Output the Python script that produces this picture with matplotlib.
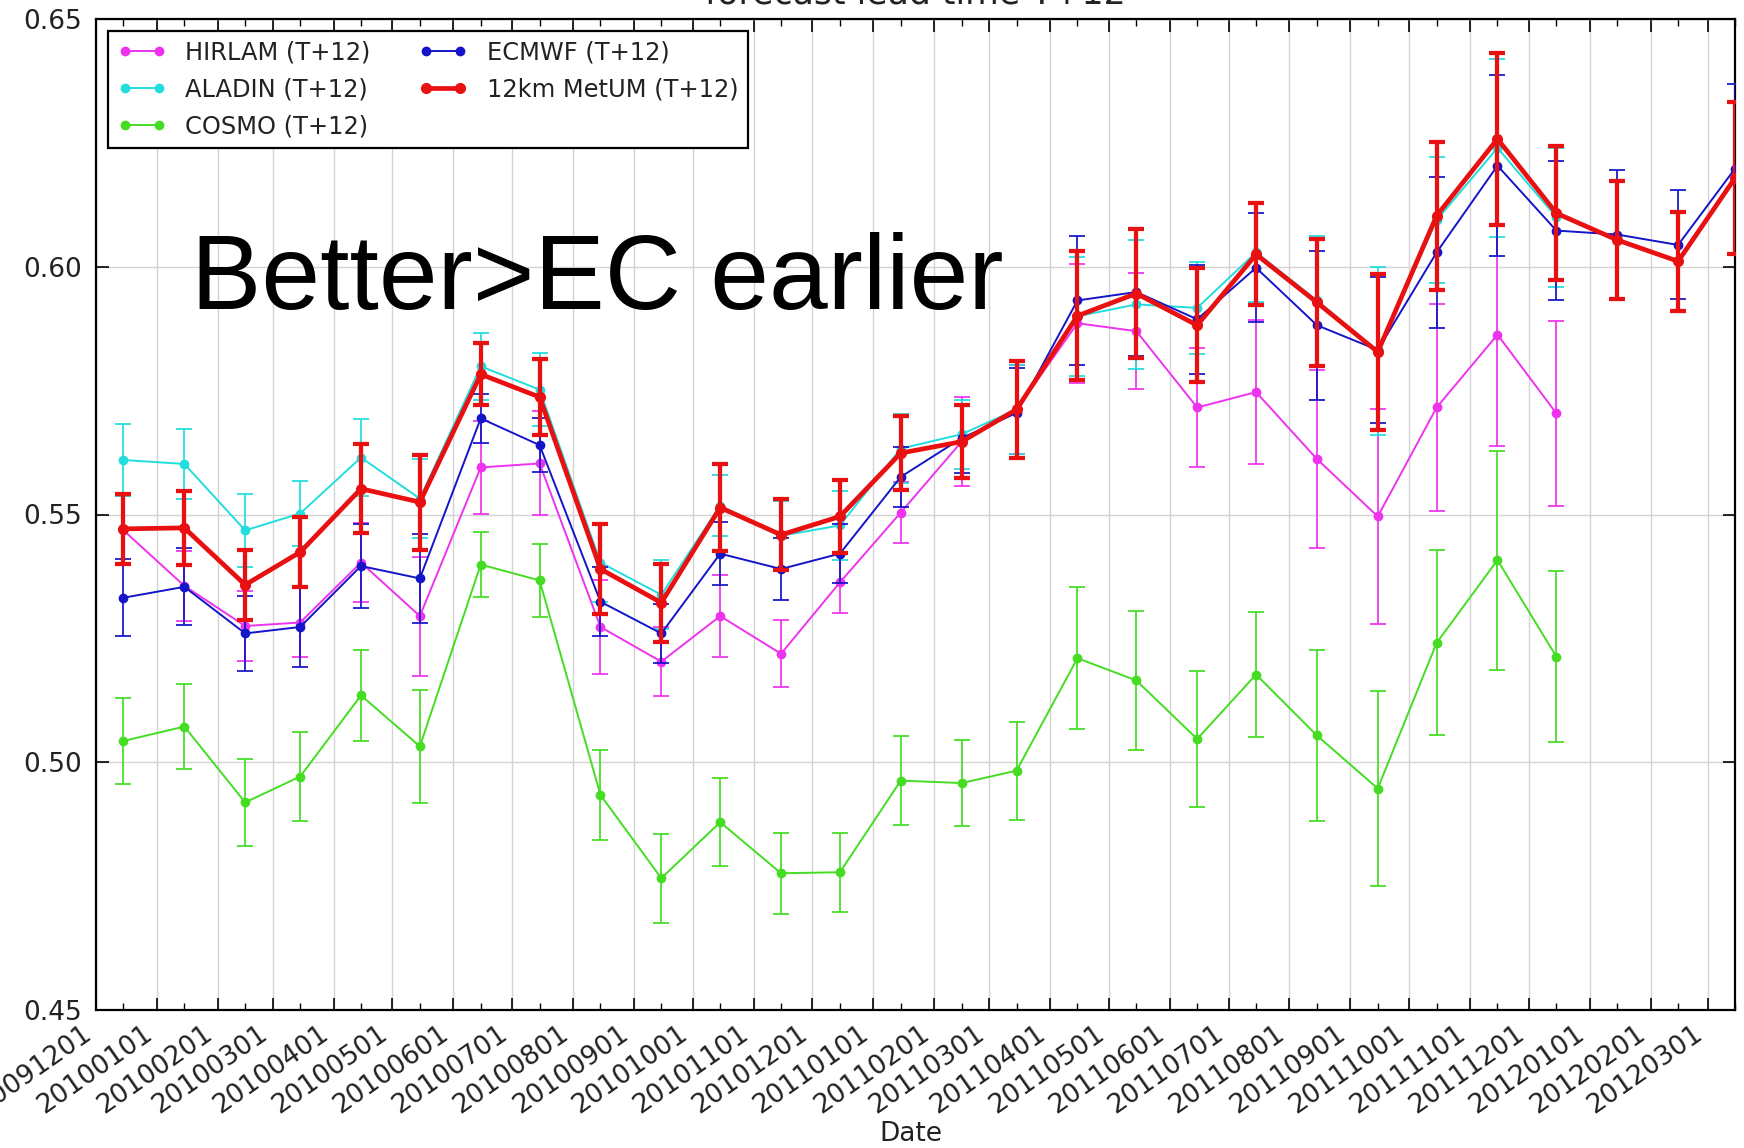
import matplotlib
matplotlib.use("Agg")
import matplotlib.pyplot as plt
import matplotlib.dates as mdates
import pandas as pd

# monthly verification, plotted mid-month
months = pd.date_range("2009-12-01", "2012-03-01", freq="MS") + pd.Timedelta(days=14)

metum = [0.5471, 0.5473, 0.5358, 0.5424, 0.5552, 0.5525, 0.5783, 0.5737, 0.5390, 0.5322,
         0.5514, 0.5459, 0.5496, 0.5624, 0.5647, 0.5712, 0.5901, 0.5946, 0.5882, 0.6025,
         0.5928, 0.5828, 0.6103, 0.6258, 0.6108, 0.6054, 0.6011, 0.6179]
metum_err = [0.0071, 0.0075, 0.0070, 0.0071, 0.0090, 0.0096, 0.0063, 0.0077, 0.0091, 0.0079,
             0.0088, 0.0072, 0.0074, 0.0075, 0.0073, 0.0097, 0.0130, 0.0131, 0.0115, 0.0103,
             0.0129, 0.0158, 0.0149, 0.0173, 0.0135, 0.0120, 0.0100, 0.0153]

ecmwf = [0.5332, 0.5354, 0.5260, 0.5273, 0.5396, 0.5371, 0.5694, 0.5640, 0.5324, 0.5260,
         0.5421, 0.5390, 0.5421, 0.5576, 0.5654, 0.5705, 0.5932, 0.5949, 0.5894, 0.5998,
         0.5882, 0.5832, 0.6029, 0.6204, 0.6073, 0.6065, 0.6044, 0.6198]
ecmwf_err = [0.0078, 0.0078, 0.0075, 0.0080, 0.0085, 0.0090, 0.0050, 0.0055, 0.0070, 0.0060,
             0.0063, 0.0063, 0.0060, 0.0060, 0.0070, 0.0090, 0.0130, 0.0130, 0.0110, 0.0110,
             0.0150, 0.0147, 0.0152, 0.0183, 0.0140, 0.0130, 0.0110, 0.0170]

aladin = [0.5610, 0.5602, 0.5468, 0.5502, 0.5615, 0.5532, 0.5799, 0.5752, 0.5403, 0.5338,
          0.5518, 0.5457, 0.5478, 0.5633, 0.5662, 0.5712, 0.5900, 0.5924, 0.5917, 0.6029,
          0.5932, 0.5830, 0.6094, 0.6240, 0.6100]
aladin_err = [0.0072, 0.0070, 0.0073, 0.0066, 0.0077, 0.0080, 0.0068, 0.0074, 0.0080, 0.0070,
              0.0061, 0.0070, 0.0070, 0.0070, 0.0070, 0.0090, 0.0120, 0.0130, 0.0093, 0.0100,
              0.0130, 0.0170, 0.0127, 0.0180, 0.0140]

hirlam = [0.5468, 0.5356, 0.5275, 0.5282, 0.5403, 0.5295, 0.5595, 0.5603, 0.5273, 0.5203,
          0.5295, 0.5219, 0.5363, 0.5504, 0.5647, 0.5712, 0.5886, 0.5870, 0.5716, 0.5747,
          0.5612, 0.5496, 0.5716, 0.5863, 0.5704]
hirlam_err = [0.0070, 0.0070, 0.0070, 0.0070, 0.0080, 0.0120, 0.0093, 0.0105, 0.0095, 0.0070,
              0.0083, 0.0068, 0.0061, 0.0062, 0.0090, 0.0090, 0.0120, 0.0117, 0.0120, 0.0145,
              0.0180, 0.0216, 0.0208, 0.0224, 0.0187]

cosmo = [0.5043, 0.5072, 0.4919, 0.4971, 0.5135, 0.5032, 0.5399, 0.5367, 0.4934, 0.4766,
         0.4879, 0.4776, 0.4778, 0.4963, 0.4958, 0.4983, 0.5210, 0.5165, 0.5047, 0.5177,
         0.5054, 0.4947, 0.5241, 0.5408, 0.5213]
cosmo_err = [0.0086, 0.0086, 0.0088, 0.0090, 0.0092, 0.0114, 0.0065, 0.0073, 0.0090, 0.0090,
             0.0089, 0.0082, 0.0080, 0.0090, 0.0087, 0.0099, 0.0143, 0.0140, 0.0138, 0.0126,
             0.0172, 0.0196, 0.0187, 0.0221, 0.0172]

series = [
    ("HIRLAM (T+12)", hirlam, hirlam_err, "#ee33ee", 1.4),
    ("ALADIN (T+12)", aladin, aladin_err, "#22dddd", 1.4),
    ("COSMO (T+12)", cosmo, cosmo_err, "#44dd22", 1.4),
    ("ECMWF (T+12)", ecmwf, ecmwf_err, "#1414c8", 1.4),
    ("12km MetUM (T+12)", metum, metum_err, "#e81010", 3.4),
]

fig = plt.figure(figsize=(17.44, 11.48), dpi=100)
ax = fig.add_axes([96 / 1744, 1 - 1010 / 1148, 1639 / 1744, 991 / 1148])

handles = []
labels = []
for i, (name, vals, errs, col, lw) in enumerate(series):
    n = len(vals)
    cont = ax.errorbar(
        months[:n], vals, yerr=errs,
        color=col, lw=lw, marker="o", ms=6 if lw < 2 else 7,
        elinewidth=lw * 0.9, capsize=6, capthick=lw * 0.9,
        zorder=3 + i,
    )
    handles.append(cont.lines[0])
    labels.append(name)

ax.set_xlim(pd.Timestamp("2009-12-01"), pd.Timestamp("2012-03-15"))
ax.set_ylim(0.45, 0.65)
ax.set_yticks([0.45, 0.50, 0.55, 0.60, 0.65])
ax.yaxis.set_major_formatter(plt.FormatStrFormatter("%.2f"))

ax.xaxis.set_major_locator(mdates.MonthLocator())
ax.xaxis.set_minor_locator(mdates.MonthLocator(bymonthday=15))
ax.xaxis.set_major_formatter(mdates.DateFormatter("%Y%m%d"))

ax.grid(True, which="major", color="#d4d4d4", lw=1.0)
ax.set_axisbelow(True)
ax.tick_params(which="both", direction="in", top=True, right=True, colors="black")
ax.tick_params(which="major", length=9, width=1.2)
ax.tick_params(which="minor", length=5, width=1.0)
ax.tick_params(axis="y", labelsize=19, pad=10, labelcolor="#222222")
ax.tick_params(axis="x", labelsize=19, pad=8, labelcolor="#222222")
plt.setp(ax.get_xticklabels(), rotation=35, ha="right")
for sp in ax.spines.values():
    sp.set_linewidth(1.6)

ax.set_title("forecast lead time T+12", fontsize=25, pad=11, color="#222222")
ax.set_xlabel("Date", fontsize=19, color="#222222")
ax.xaxis.set_label_coords(0.497, -0.125)
ax.xaxis.label.set_va("center")

leg = ax.legend(handles, labels, loc="upper left", ncol=2, numpoints=2,
                fontsize=17.4, labelspacing=0.53, fancybox=False,
                framealpha=1, edgecolor="black", borderaxespad=0.5)
leg.get_frame().set_linewidth(1.6)
for t in leg.get_texts():
    t.set_color("#222222")

ax.text(0.058, 0.707, "Better>EC earlier", transform=ax.transAxes,
        fontsize=76, family="Liberation Sans", va="baseline", ha="left",
        color="black", zorder=10)

fig.savefig("out.png", dpi=100)
